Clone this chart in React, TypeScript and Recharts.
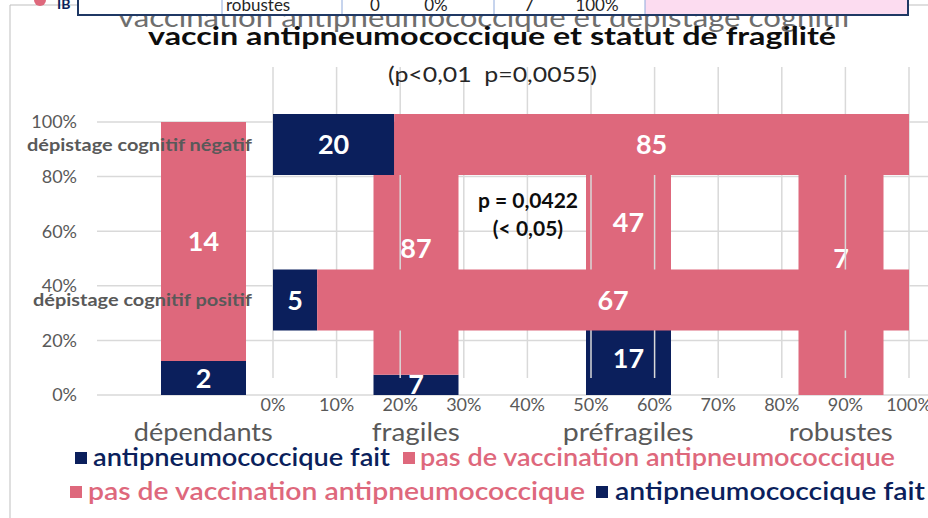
import { BarChart, Bar, XAxis, YAxis, CartesianGrid, LabelList } from "recharts";

// fragility chart (vertical bars)
const frailtyCats = ["dépendants", "fragiles", "préfragiles", "robustes"];
const frailtyDone = [2, 7, 17, 0];
const frailtyNot = [14, 87, 47, 7];
const pctTicks = [0, 0.2, 0.4, 0.6, 0.8, 1];

// cognitive screening chart (horizontal bars)
const cogCats = ["dépistage cognitif négatif", "dépistage cognitif positif"];
const cogDone = [20, 5];
const cogNot = [85, 67];
const cogTicks = [0, 0.1, 0.2, 0.3, 0.4, 0.5, 0.6, 0.7, 0.8, 0.9, 1];

const NAVY = "#0b1f5c";
const PINK = "#de687c";
const GREY = "#595959";
const GRID = "#d9d9d9";
const FONT = "Lato, 'Open Sans', sans-serif";

const frailtyData = frailtyCats.map((cat, i) => ({ cat, fait: frailtyDone[i], pas: frailtyNot[i] }));
const cogData = cogCats.map((cat, i) => ({ cat, fait: cogDone[i], pas: cogNot[i] }));

const catWidth: Record<string, number> = {
  "dépendants": 139,
  "fragiles": 88,
  "préfragiles": 131,
  "robustes": 104,
};
const cogWidth: Record<string, number> = {
  "dépistage cognitif négatif": 225,
  "dépistage cognitif positif": 219,
};

const pct = (v: number) => `${Math.round(v * 100)}%`;

function FrailtyYTick({ x, y, payload }: any) {
  return (
    <text x={x} y={y} dy="0.35em" textAnchor="end" fontSize={18} fill={GREY} fontFamily={FONT}>
      {pct(payload.value)}
    </text>
  );
}

function FrailtyXTick({ x, y, payload }: any) {
  return (
    <text x={x} y={y} dy={40} textAnchor="middle" fontSize={25} fill={GREY} fontFamily={FONT}
      textLength={catWidth[payload.value]} lengthAdjust="spacingAndGlyphs">
      {payload.value}
    </text>
  );
}

function CogXTick({ x, y, payload }: any) {
  return (
    <text x={x} y={y} dy={27} textAnchor="middle" fontSize={18} fill={GREY} fontFamily={FONT}>
      {pct(payload.value)}
    </text>
  );
}

function CogYTick({ x, y, payload }: any) {
  return (
    <text x={x} y={y} dy="0.35em" textAnchor="end" fontSize={17} fontWeight="bold" fill={GREY} fontFamily={FONT}
      textLength={cogWidth[payload.value]} lengthAdjust="spacingAndGlyphs">
      {payload.value}
    </text>
  );
}

const labelStyle = { fill: "#fff", fontSize: 27, fontWeight: 700, fontFamily: FONT };

export default function App() {
  return (
    <div style={{ position: "fixed", left: 0, top: 0, width: 928, height: 518, overflow: "hidden", background: "#fff" }}>
      <div style={{ position: "absolute", left: 0, top: 0 }}>
        <BarChart width={960} height={518} data={frailtyData} stackOffset="expand"
          margin={{ top: 122, right: 13, left: 0, bottom: 63 }}>
          <CartesianGrid vertical={false} stroke={GRID} strokeWidth={1.5} />
          <XAxis dataKey="cat" height={60} axisLine={false} tickLine={false} tickMargin={0} tick={<FrailtyXTick />} interval={0} />
          <YAxis width={97} domain={[0, 1]} ticks={pctTicks} axisLine={false} tickLine={false} tickMargin={14} tick={<FrailtyYTick />} />
          <Bar dataKey="fait" stackId="a" fill={NAVY} barSize={85} isAnimationActive={false}>
            <LabelList dataKey="fait" position="center" style={labelStyle} />
          </Bar>
          <Bar dataKey="pas" stackId="a" fill={PINK} barSize={85} isAnimationActive={false}>
            <LabelList dataKey="pas" position="center" style={labelStyle} />
          </Bar>
        </BarChart>
      </div>
      {/* plot area clip of the fragility labels */}
      <div style={{ position: "absolute", left: 97, top: 396, width: 831, height: 22, background: "#fff" }} />
      <div style={{ position: "absolute", left: 0, top: 0 }}>
        <BarChart width={928} height={518} data={cogData} layout="vertical" stackOffset="expand"
          margin={{ top: 67, right: 19, left: 0, bottom: 100 }}>
          <CartesianGrid horizontal={false} stroke={GRID} strokeWidth={1.5} />
          <XAxis type="number" domain={[0, 1]} ticks={cogTicks} height={40} axisLine={false} tickLine={false} tickMargin={0} tick={<CogXTick />} interval={0} />
          <YAxis type="category" dataKey="cat" width={273} axisLine={false} tickLine={false} tickMargin={15} tick={<CogYTick />} />
          <Bar dataKey="fait" stackId="b" fill={NAVY} barSize={61} isAnimationActive={false}>
            <LabelList dataKey="fait" position="center" style={labelStyle} />
          </Bar>
          <Bar dataKey="pas" stackId="b" fill={PINK} barSize={61} isAnimationActive={false}>
            <LabelList dataKey="pas" position="center" style={labelStyle} />
          </Bar>
        </BarChart>
      </div>
      <svg width={928} height={518} style={{ position: "absolute", left: 0, top: 0 }} fontFamily={FONT}>
        {/* outer frame */}
        <line x1={10} y1={5} x2={928} y2={5} stroke="#bfbfbf" />
        <line x1={10} y1={5} x2={10} y2={518} stroke="#bfbfbf" />

        {/* titles */}
        <text x={118} y={27} fontSize={26} fill="#6e6e6e" textLength={734} lengthAdjust="spacingAndGlyphs">
          vaccination antipneumococcique et dépistage cognitif
        </text>
        <text x={148} y={45} fontSize={25} fontWeight="bold" fill="#0d0d0d" textLength={688} lengthAdjust="spacingAndGlyphs">
          vaccin antipneumococcique et statut de fragilité
        </text>
        <text x={388} y={82} fontSize={21} fill="#262626" textLength={209} lengthAdjust="spacingAndGlyphs" style={{ whiteSpace: "pre" }}>
          {"(p<0,01  p=0,0055)"}
        </text>

        {/* table strip at top */}
        <circle cx={40} cy={0} r={6} fill={PINK} />
        <text x={57} y={9} fontSize={14} fill={NAVY} fontWeight="bold">IB</text>
        <rect x={78} y={-3} width={830} height={18} fill="#fff" stroke="#1f3864" strokeWidth={2} />
        <rect x={645} y={-2} width={262} height={16} fill="#fcdcf0" />
        {[222, 342, 494, 645].map((sx) => (
          <line key={sx} x1={sx} y1={-2} x2={sx} y2={14} stroke="#8ea9db" />
        ))}
        <text x={226} y={11} fontSize={17} fill="#262626">robustes</text>
        <text x={375} y={11} fontSize={17} fill="#262626" textAnchor="middle">0</text>
        <text x={436} y={11} fontSize={17} fill="#262626" textAnchor="middle">0%</text>
        <text x={529} y={11} fontSize={17} fill="#262626" textAnchor="middle">7</text>
        <text x={597} y={11} fontSize={17} fill="#262626" textAnchor="middle">100%</text>

        {/* annotation */}
        <text x={528} y={208} fontSize={21} fontWeight="bold" fill="#0d0d0d" textAnchor="middle">p = 0,0422</text>
        <text x={528} y={236} fontSize={21} fontWeight="bold" fill="#0d0d0d" textAnchor="middle">(&lt; 0,05)</text>

        {/* legends */}
        <rect x={75} y={452} width={12} height={12} fill={NAVY} />
        <text x={93} y={466} fontSize={25} fontWeight={600} fill={NAVY} textLength={297} lengthAdjust="spacingAndGlyphs">antipneumococcique fait</text>
        <rect x={403} y={452} width={12} height={12} fill={PINK} />
        <text x={420} y={466} fontSize={25} fontWeight={600} fill={PINK} textLength={475} lengthAdjust="spacingAndGlyphs">pas de vaccination antipneumococcique</text>
        <rect x={70} y={486} width={12} height={12} fill={PINK} />
        <text x={88} y={500} fontSize={25} fontWeight={600} fill={PINK} textLength={497} lengthAdjust="spacingAndGlyphs">pas de vaccination antipneumococcique</text>
        <rect x={596} y={486} width={12} height={12} fill={NAVY} />
        <text x={615} y={500} fontSize={25} fontWeight={600} fill={NAVY} textLength={310} lengthAdjust="spacingAndGlyphs">antipneumococcique fait</text>
      </svg>
    </div>
  );
}
